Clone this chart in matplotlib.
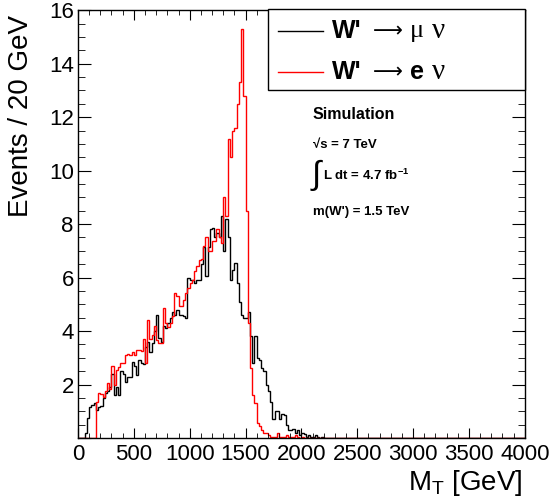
import numpy as np
import matplotlib
matplotlib.use("Agg")
import matplotlib.pyplot as plt
from matplotlib.lines import Line2D
from matplotlib.patches import Rectangle
from matplotlib.ticker import MultipleLocator, FuncFormatter

plt.rcParams["font.family"] = ["Liberation Sans", "DejaVu Sans"]
plt.rcParams["mathtext.fontset"] = "custom"
plt.rcParams["mathtext.rm"] = "Liberation Sans"
plt.rcParams["mathtext.bf"] = "Liberation Sans:bold"
plt.rcParams["mathtext.it"] = "Liberation Sans:italic"

# 20 GeV bins, 0 - 4000 GeV
bin_width = 20
n_bins = 200

# W' -> mu nu, bins from 0 GeV up to 2200 GeV (all empty above)
mu_counts = [
    0.0, 0.0, 0.0, 0.2, 0.75, 1.15, 1.25, 1.3, 1.05, 1.15,
    1.2, 1.5, 1.7, 1.75, 1.9, 2.4, 1.6, 1.9, 1.6, 2.5,
    2.4, 2.1, 2.3, 2.3, 2.85, 2.7, 2.35, 2.9, 2.8, 2.75,
    3.4, 3.6, 3.2, 3.55, 4.0, 4.6, 3.75, 3.6, 4.2, 4.1,
    4.3, 4.5, 4.7, 4.6, 4.8, 4.6, 4.6, 4.55, 4.5, 6.0,
    5.9, 5.9, 5.8, 5.9, 5.9, 6.5, 7.15, 6.05, 7.15, 7.8,
    7.85, 7.5, 7.65, 7.5, 8.3, 7.0, 8.2, 7.5, 5.9, 6.3,
    6.55, 5.8, 5.1, 4.6, 4.5, 4.5, 4.7, 3.8, 2.8, 3.8,
    3.0, 2.9, 2.6, 2.5, 2.0, 1.75, 1.35, 0.7, 1.0, 1.0,
    0.7, 0.9, 0.85, 0.5, 0.3, 0.3, 0.35, 0.2, 0.3, 0.1,
    0.2, 0.15, 0.05, 0.1, 0.05, 0.05, 0.1, 0.05, 0.0, 0.05,
]

# W' -> e nu, bins from 0 GeV up to 2020 GeV (all empty above)
e_counts = [
    0.0, 0.0, 0.0, 0.0, 0.0, 0.0, 0.0, 0.0, 1.36, 1.67,
    1.65, 1.55, 1.75, 2.07, 1.85, 2.7, 2.0, 2.55, 2.67, 2.8,
    2.82, 3.1, 3.13, 3.1, 3.2, 3.1, 3.3, 3.3, 3.25, 3.7,
    2.8, 4.4, 3.7, 3.86, 4.2, 3.67, 3.55, 3.55, 4.86, 4.3,
    4.15, 4.3, 4.57, 5.42, 5.3, 4.92, 4.92, 5.17, 5.42, 5.6,
    5.8, 5.92, 6.23, 6.42, 6.67, 6.7, 7.17, 7.5, 6.98, 6.98,
    7.35, 7.35, 7.8, 7.5, 7.3, 9.0, 8.3, 11.2, 10.5, 11.5,
    11.6, 12.5, 13.3, 15.3, 12.8, 8.5, 4.3, 2.6, 1.6, 1.3,
    0.55, 0.45, 0.3, 0.2, 0.2, 0.1, 0.05, 0.05, 0.05, 0.2,
    0.05, 0.05, 0.05, 0.1, 0.05, 0.05, 0.05, 0.1, 0.05, 0.0,
    0.05,
]

edges = np.arange(0, bin_width * n_bins + 1, bin_width)
mu = np.array(mu_counts + [0.0] * (n_bins - len(mu_counts)))
el = np.array(e_counts + [0.0] * (n_bins - len(e_counts)))

fig = plt.figure(figsize=(5.53, 5.01), dpi=100)
ax = fig.add_axes([0.141, 0.1257, 0.808, 0.854])

ax.stairs(mu, edges, color="black", lw=1.0)
ax.stairs(el, edges, color="red", lw=1.0)

ax.set_xlim(0, 4000)
ax.set_ylim(0, 16)

# ROOT-like ticks
ax.xaxis.set_major_locator(MultipleLocator(500))
ax.xaxis.set_minor_locator(MultipleLocator(100))
ax.yaxis.set_major_locator(MultipleLocator(2))
ax.yaxis.set_minor_locator(MultipleLocator(0.5))
ax.yaxis.set_major_formatter(FuncFormatter(lambda v, p: "" if v == 0 else f"{v:g}"))
ax.tick_params(which="both", direction="in", top=True, right=True, labelsize=16)
ax.tick_params(axis="y", which="major", length=9.4, pad=3)
ax.tick_params(axis="y", which="minor", length=5)
ax.tick_params(axis="x", which="major", length=7, pad=4)
ax.tick_params(axis="x", which="minor", length=3.6)
for s in ax.spines.values():
    s.set_linewidth(1.0)

ax.set_xlabel("M$_{\\mathrm{T}}$ [GeV]", fontsize=20, loc="right")
ax.xaxis.set_label_coords(0.9955, -0.070)
ax.set_ylabel("Events / 20 GeV", fontsize=20, loc="top")
ax.yaxis.set_label_coords(-0.098, 0.988)

# legend box
ax.add_patch(Rectangle((0.425, 0.813), 0.575, 0.189, transform=ax.transAxes,
                       facecolor="white", edgecolor="black", lw=1.0,
                       clip_on=False, zorder=5))


def fx(px):
    return (px - 78) / 447.0


rows = [(0.951, "black", "\u03bc"), (0.855, "red", "e")]
for y, col, lep in rows:
    ax.add_line(Line2D([fx(278), fx(323)], [y, y], transform=ax.transAxes,
                       color=col, lw=1.0, zorder=6))
    ax.text(fx(332), y, "W'", transform=ax.transAxes, fontsize=18,
            fontweight="bold", va="center", ha="left", zorder=7)
    ax.text(fx(373), y, "\u27f6", transform=ax.transAxes, fontsize=15,
            family=["DejaVu Sans"], va="center", ha="left", zorder=7)
    if lep == "e":
        ax.text(fx(410), y, "e", transform=ax.transAxes, fontsize=18,
                fontweight="bold", va="center", ha="left", zorder=7)
    else:
        ax.text(fx(410), y, lep, transform=ax.transAxes, fontsize=19,
                family=["Liberation Serif"], va="center", ha="left", zorder=7)
    ax.text(fx(432), y, "\u03bd", transform=ax.transAxes, fontsize=21,
            family=["Liberation Serif"], va="center", ha="left", zorder=7)

# info text
ax.text(0.526, 0.757, "Simulation", transform=ax.transAxes, fontsize=11.5,
        fontweight="bold", va="center")
ax.text(0.526, 0.684, "\u221as = 7 TeV", transform=ax.transAxes, fontsize=9.5,
        fontweight="bold", va="center")
ax.text(0.522, 0.614, "\u222b", transform=ax.transAxes, fontsize=24,
        va="center")
ax.text(0.548, 0.614, "L dt = 4.7 fb$^{\\mathbf{-1}}$", transform=ax.transAxes,
        fontsize=9.5, fontweight="bold", va="center")
ax.text(0.526, 0.528, "m(W') = 1.5 TeV", transform=ax.transAxes, fontsize=9.5,
        fontweight="bold", va="center")

fig.savefig("out.png", dpi=100)
